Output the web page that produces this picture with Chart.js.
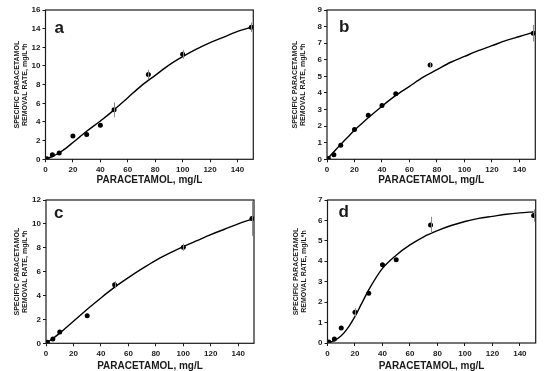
<!DOCTYPE html>
<html>
<head>
<meta charset="utf-8">
<script src="https://cdn.jsdelivr.net/npm/chart.js@4.4.1/dist/chart.umd.min.js"></script>
<style>
  body { margin: 0; background: #fff; }
  #wrap { position: relative; width: 550px; height: 371px; }
  canvas { position: absolute; }
</style>
</head>
<body>
<div id="wrap">
  <canvas id="ca" width="275" height="185" style="left:0;top:0"></canvas>
  <canvas id="cb" width="275" height="185" style="left:275px;top:0"></canvas>
  <canvas id="cc" width="275" height="186" style="left:0;top:185px"></canvas>
  <canvas id="cd" width="275" height="186" style="left:275px;top:185px"></canvas>
</div>
<script>
// measured points (x = paracetamol mg/L)
const aX = [1, 5, 10, 20, 30, 40, 50, 75, 100, 150];
const aY = [0.05, 0.5, 0.68, 2.5, 2.65, 3.65, 5.3, 9.1, 11.25, 14.15];
const aErr = [0, 0, 0, 0, 0, 0, 0.8, 0.5, 0.45, 0.5];

const bX = [1, 5, 10, 20, 30, 40, 50, 75, 150];
const bY = [0.05, 0.28, 0.85, 1.8, 2.65, 3.25, 3.95, 5.68, 7.6];
const bErr = [0, 0, 0, 0, 0, 0, 0, 0.15, 0.5];

const cX = [1, 5, 10, 30, 50, 100, 150];
const cY = [0.08, 0.36, 0.95, 2.3, 4.9, 8.05, 10.45];
const cErr = [0, 0, 0, 0, 0.3, 0.3, 1.45];

const dX = [1, 5, 10, 20, 30, 40, 50, 75, 150];
const dY = [0.05, 0.2, 0.73, 1.5, 2.43, 3.83, 4.07, 5.78, 6.24];
const dErr = [0, 0, 0, 0.2, 0, 0, 0, 0.4, 0.3];

// fitted curves
const fitX = [0, 5, 10, 15, 20, 25, 30, 40, 50, 60, 70, 80, 90, 100, 110, 120, 130, 140, 150];
const aFit = [0, 0.3, 0.7, 1.2, 1.8, 2.4, 3.0, 4.1, 5.3, 6.6, 7.9, 9.0, 10.1, 11.0, 11.8, 12.5, 13.1, 13.7, 14.15];
const bFit = [0, 0.45, 0.9, 1.33, 1.75, 2.13, 2.5, 3.2, 3.85, 4.4, 4.95, 5.4, 5.85, 6.2, 6.55, 6.85, 7.15, 7.4, 7.65];
const cFit = [0, 0.4, 0.85, 1.35, 1.85, 2.35, 2.85, 3.8, 4.7, 5.5, 6.25, 6.95, 7.55, 8.1, 8.6, 9.1, 9.55, 10.0, 10.4];
const dFit = [0, 0.12, 0.35, 0.75, 1.3, 1.95, 2.6, 3.65, 4.3, 4.8, 5.2, 5.5, 5.75, 5.95, 6.1, 6.2, 6.3, 6.37, 6.42];

const xTicks = [0, 20, 40, 60, 80, 100, 120, 140];
const xTitle = 'PARACETAMOL, mg/L';
const yTitle = ['SPECIFIC PARACETAMOL', 'REMOVAL RATE, mg/L*h'];

const FONT = 'Liberation Sans, Arial, sans-serif';
const INK = '#1a1a1a';

const framePlugin = {
    id: 'frame',
    afterDraw(chart, args, opts) {
        const ctx = chart.ctx;
        const a = chart.chartArea;
        const xs = chart.scales.x, ys = chart.scales.y;
        ctx.save();
        // error bars
        ctx.strokeStyle = '#8a8a8a';
        ctx.lineWidth = 1;
        const pts = chart.data.datasets[1].data;
        opts.errs.forEach((e, i) => {
            if (!e) return;
            const px = Math.round(xs.getPixelForValue(pts[i].x)) + 0.5;
            ctx.beginPath();
            ctx.moveTo(px, ys.getPixelForValue(pts[i].y - e));
            ctx.lineTo(px, ys.getPixelForValue(pts[i].y + e));
            ctx.stroke();
        });
        // box
        ctx.strokeStyle = INK;
        ctx.lineWidth = 1.2;
        ctx.strokeRect(a.left, a.top, a.right - a.left, a.bottom - a.top);
        // panel letter
        ctx.fillStyle = INK;
        ctx.font = 'bold 17px ' + FONT;
        ctx.textBaseline = 'middle';
        ctx.fillText(opts.letter, a.left + opts.lx, a.top + opts.ly);
        ctx.restore();
    }
};

function makePanel(id, px, py, err, fit, yMax, yStep, letter, lx, ly, box) {
    const ctx = document.getElementById(id).getContext('2d');
    return new Chart(ctx, {
        type: 'scatter',
        data: {
            datasets: [
                {
                    data: fitX.map((x, i) => ({ x: x, y: fit[i] })),
                    showLine: true,
                    borderColor: '#000',
                    borderWidth: 1.4,
                    pointRadius: 0,
                    cubicInterpolationMode: 'monotone'
                },
                {
                    data: px.map((x, i) => ({ x: x, y: py[i] })),
                    backgroundColor: '#000',
                    borderColor: '#000',
                    pointRadius: 2.5,
                    borderWidth: 0
                }
            ]
        },
        options: {
            responsive: false,
            animation: false,
            layout: { padding: { left: 0, top: box.top, right: box.right, bottom: 0 } },
            plugins: {
                legend: { display: false },
                tooltip: { enabled: false },
                frame: { errs: err, letter: letter, lx: lx, ly: ly }
            },
            scales: {
                x: {
                    type: 'linear',
                    min: 0,
                    max: 151.5,
                    afterFit: s => { s.height = box.xh; },
                    afterBuildTicks: s => { s.ticks = xTicks.map(v => ({ value: v })); },
                    grid: { drawOnChartArea: false, tickLength: 3, color: INK },
                    border: { display: false },
                    ticks: { color: INK, font: { family: FONT, size: 8, weight: 'bold' }, padding: 3, maxRotation: 0 },
                    title: { display: true, text: xTitle, color: INK, font: { family: FONT, size: 10, weight: 'bold', lineHeight: 1 }, padding: { top: 0, bottom: 0 } }
                },
                y: {
                    type: 'linear',
                    min: 0,
                    max: yMax,
                    afterFit: s => { s.width = box.yw; },
                    grid: { drawOnChartArea: false, tickLength: 3, color: INK },
                    border: { display: false },
                    ticks: { stepSize: yStep, color: INK, font: { family: FONT, size: 8, weight: 'bold' }, padding: 2 },
                    title: { display: true, text: yTitle, color: INK, font: { family: FONT, size: 7, weight: 'bold', lineHeight: 1.15 }, padding: { top: box.tp, bottom: 0 } }
                }
            }
        },
        plugins: [framePlugin]
    });
}

window.addEventListener('load', function () {
    makePanel('ca', aX, aY, aErr, aFit, 16, 2, 'a', 9, 18, { top: 10, right: 21.7, xh: 25.7, yw: 45.5, tp: 13 });
    makePanel('cb', bX, bY, bErr, bFit, 9, 1, 'b', 12, 17, { top: 10, right: 14.7, xh: 25.7, yw: 52, tp: 16 });
    makePanel('cc', cX, cY, cErr, cFit, 12, 2, 'c', 8, 13, { top: 15, right: 21, xh: 27.7, yw: 46, tp: 13 });
    makePanel('cd', dX, dY, dErr, dFit, 7, 1, 'd', 11, 12, { top: 15, right: 14.3, xh: 28, yw: 52.5, tp: 17 });
});
</script>
</body>
</html>
